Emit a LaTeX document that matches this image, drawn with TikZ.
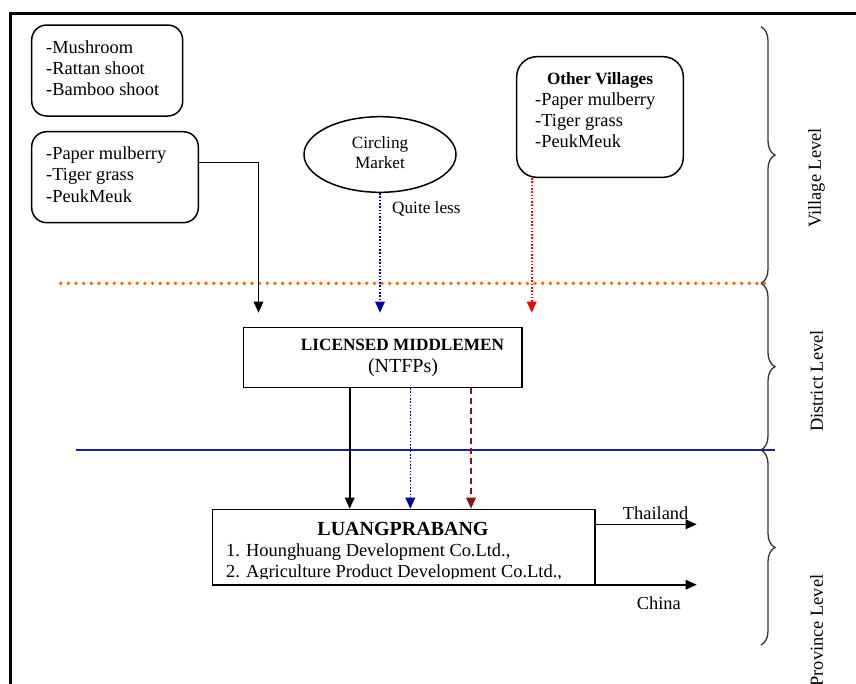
\documentclass[tikz,border=0pt]{standalone}
\usepackage{fontspec}
\setmainfont{Liberation Serif}
\usetikzlibrary{arrows.meta,shapes.geometric,decorations.pathreplacing}

\definecolor{dotorange}{RGB}{255,102,0}
\definecolor{flowblue}{RGB}{0,0,170}
\definecolor{flowred}{RGB}{255,0,0}
\definecolor{flowmaroon}{RGB}{140,20,20}
\definecolor{levelnavy}{RGB}{30,30,160}
\definecolor{bracegray}{RGB}{50,50,50}

\tikzset{
  txt/.style={font=\fontsize{18.4}{22}\selectfont, inner sep=0pt},
  txtsm/.style={font=\fontsize{17.2}{21}\selectfont, inner sep=0pt},
  roundbox/.style={draw, line width=1.5pt, rounded corners=15pt, inner sep=0pt},
  plainbox/.style={draw, line width=1.5pt, inner sep=0pt},
  tip/.style={-{Triangle[length=11pt,width=9.5pt]}},
  flow/.style={tip, line width=1.6pt},
  bluedot/.style={tip, flowblue, line width=1.6pt, dash pattern=on 1.6pt off 1.7pt},
  reddot/.style={tip, flowred, line width=1.6pt, dash pattern=on 1.6pt off 1.7pt},
  maroondash/.style={tip, flowmaroon, line width=1.7pt, dash pattern=on 6pt off 4pt},
  levelbrace/.style={bracegray, line width=1.3pt, decorate, decoration={brace, amplitude=14pt}},
  leveltxt/.style={txt, rotate=90}
}

\begin{document}
\begin{tikzpicture}[x=1pt, y=-1pt]
\useasboundingbox (0,0) rectangle (856,683);

% outer frame (top and left edges)
\draw[line width=2.4pt] (10.5,690) -- (10.5,13.5) -- (860,13.5);

% village products
\node[roundbox, minimum width=151pt, minimum height=91pt] (prodA) at (107.2,70.5) {};
\node[txt, anchor=base west] (prodA1) at (46,53.3) {-Mushroom};
\node[txt, anchor=base west] (prodA2) at (46,74.5) {-Rattan shoot};
\node[txt, anchor=base west] (prodA3) at (46,95.7) {-Bamboo shoot};

\node[roundbox, minimum width=166.6pt, minimum height=91pt] (prodB) at (115,177.2) {};
\node[txt, anchor=base west] (prodB1) at (46,159) {-Paper mulberry};
\node[txt, anchor=base west] (prodB2) at (46,180.7) {-Tiger grass};
\node[txt, anchor=base west] (prodB3) at (46,202.3) {-PeukMeuk};

% circling market
\node[draw, ellipse, line width=1.5pt, minimum width=152pt, minimum height=75.6pt, inner sep=0pt] (circ) at (380,154.5) {};
\node[txtsm, anchor=base] (circ1) at (380,148.3) {Circling};
\node[txtsm, anchor=base] (circ2) at (380,168.3) {Market};
\node[txtsm, anchor=base west] (quite) at (392,213.3) {Quite less};

% other villages
\node[roundbox, rounded corners=20pt, minimum width=166.6pt, minimum height=120.6pt] (other) at (600,117) {};
\node[txtsm, anchor=base, font=\fontsize{17.2}{21}\selectfont\bfseries] (other0) at (600,84) {Other Villages};
\node[txt, anchor=base west] (other1) at (535,105) {-Paper mulberry};
\node[txt, anchor=base west] (other2) at (535,126) {-Tiger grass};
\node[txt, anchor=base west] (other3) at (535,147.3) {-PeukMeuk};

% level separators
\draw[dotorange, line width=3.8pt, line cap=round, dash pattern=on 0pt off 7.65pt] (60.7,283.3) -- (768,283.3);
\draw[levelnavy, line width=1.6pt] (76,449.7) -- (775,449.7);

% licensed middlemen
\node[plainbox, minimum width=278.7pt, minimum height=59.6pt] (lm) at (382.7,357.5) {};
\node[txtsm, anchor=base, font=\fontsize{17.2}{21}\selectfont\bfseries] (lm1) at (402.5,350) {LICENSED MIDDLEMEN};
\node[txt, anchor=base, font=\fontsize{20}{24}\selectfont] (lm2) at (403,372.7) {(NTFPs)};

% Luangprabang companies
\node[plainbox, minimum width=382.3pt, minimum height=75.5pt] (lp) at (403.8,547.2) {};
\node[txt, anchor=base, font=\fontsize{20}{24}\selectfont\bfseries] (lp0) at (403,535.7) {LUANGPRABANG};
\node[txt, anchor=base west] (lp1) at (226,556.7) {1. Hounghuang Development Co.Ltd.,};
\begin{scope}
  \clip (215,560) rectangle (590,578.6);
  \node[txt, anchor=base west] (lp2) at (226,577.3) {2. Agriculture Product Development Co.Ltd.,};
\end{scope}

% flows into the district level
\coordinate (bendA) at (258.5,162.3);
\coordinate (endA) at (258.5,312.7);
\coordinate (endB) at (380,312.7);
\coordinate (endC) at (531.7,312.7);
\draw[flow] (prodB.east |- bendA) -- (bendA) -- (endA);
\draw[bluedot] (circ.south) -- (endB);
\draw[reddot] (other.south -| endC) -- (endC);

% flows into the province level
\coordinate (colA) at (349.7,0);
\coordinate (colB) at (410.3,0);
\coordinate (colC) at (471,0);
\draw[flow] (lm.south -| colA) -- (lp.north -| colA);
\draw[bluedot] (lm.south -| colB) -- (lp.north -| colB);
\draw[maroondash] (lm.south -| colC) -- (lp.north -| colC);

% exports
\coordinate (thEnd) at (696.7,524.3);
\coordinate (chEnd) at (696.7,584.7);
\draw[flow] (lp.east |- thEnd) -- (thEnd);
\draw[flow] (lp.east |- chEnd) -- (chEnd);
\node[txt, anchor=base west] (thai) at (622.7,519) {Thailand};
\node[txt, anchor=base west] (china) at (636.7,609.3) {China};

% level braces
\draw[levelbrace] (761,26.7) -- (761,283.3);
\draw[levelbrace] (761,283.3) -- (761,450);
\draw[levelbrace] (761,450) -- (761,645);
\node[leveltxt] (vlev) at (816.5,178) {Village Level};
\node[leveltxt] (dlev) at (816.5,381) {District Level};
\node[leveltxt] (plev) at (816.5,630.5) {Province Level};
\end{tikzpicture}
\end{document}
